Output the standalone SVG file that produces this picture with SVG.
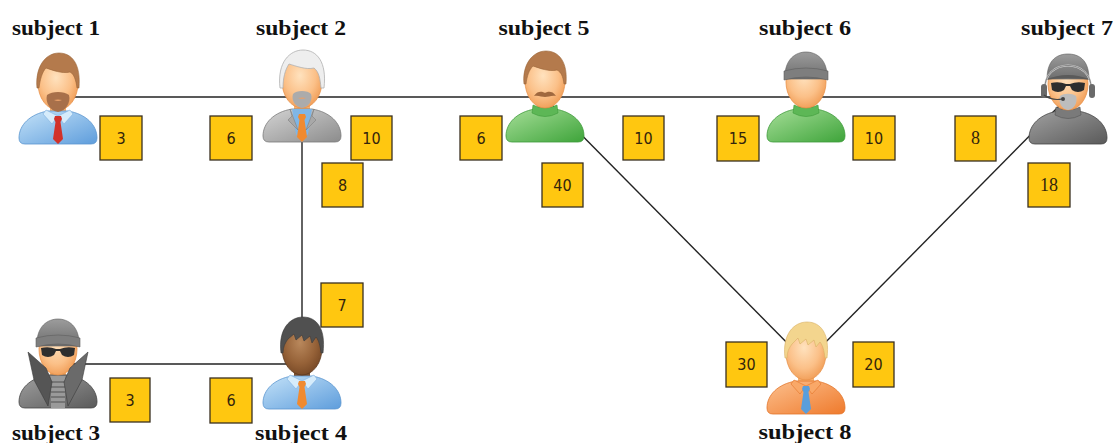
<svg xmlns="http://www.w3.org/2000/svg" width="1116" height="443" viewBox="0 0 1116 443">
  <style>
    .title { font-family: "Liberation Serif", "Times New Roman", serif; font-weight: bold; font-size: 21px; fill: #111; text-anchor: middle; }
    .wbox { fill: #FFC710; stroke: #3a3020; stroke-width: 1.3; }
    .wtxt { font-family: "DejaVu Sans Condensed", "DejaVu Sans", sans-serif; font-size: 16px; fill: #33240c; text-anchor: middle; }
    .wtxt.serif { font-family: "Liberation Serif", serif; font-size: 18px; }
    .edge { stroke: #222; stroke-width: 1.4; fill: none; }
    .head { fill: url(#skin); stroke: #E8924A; stroke-width: 0.8; }
    .headD { fill: url(#skinD); stroke: #5E3A1E; stroke-width: 0.8; }
    .neck { fill: #F5B070; }
    .neckD { fill: #7E5230; }
    .shirtBlue { fill: url(#blue); stroke: #5B95CF; stroke-width: 0.8; }
    .green { fill: url(#green); stroke: #3E9A3A; stroke-width: 0.8; }
    .greyCoat { fill: url(#grey); stroke: #7A7A7A; stroke-width: 0.8; }
    .darkCoat { fill: url(#dark); stroke: #444; stroke-width: 0.8; }
    .orange { fill: url(#orange); stroke: #E27428; stroke-width: 0.8; }
    .glasses { fill: #2E2E2E; }
  </style>
  <defs>
    <radialGradient id="skin" cx="0.45" cy="0.4" r="0.65">
      <stop offset="0" stop-color="#FFE2BE"/>
      <stop offset="0.6" stop-color="#FBC088"/>
      <stop offset="1" stop-color="#F09A52"/>
    </radialGradient>
    <radialGradient id="skinD" cx="0.45" cy="0.4" r="0.65">
      <stop offset="0" stop-color="#B9885C"/>
      <stop offset="0.6" stop-color="#966238"/>
      <stop offset="1" stop-color="#744624"/>
    </radialGradient>
    <linearGradient id="blue" x1="0" y1="0" x2="1" y2="1">
      <stop offset="0" stop-color="#C4E2F8"/>
      <stop offset="1" stop-color="#5E9DDC"/>
    </linearGradient>
    <linearGradient id="green" x1="0" y1="0" x2="1" y2="1">
      <stop offset="0" stop-color="#A6DE98"/>
      <stop offset="1" stop-color="#3EA43A"/>
    </linearGradient>
    <linearGradient id="grey" x1="0" y1="0" x2="1" y2="1">
      <stop offset="0" stop-color="#D4D4D4"/>
      <stop offset="1" stop-color="#8C8C8C"/>
    </linearGradient>
    <linearGradient id="dark" x1="0" y1="0" x2="1" y2="1">
      <stop offset="0" stop-color="#A0A0A0"/>
      <stop offset="1" stop-color="#5A5A5A"/>
    </linearGradient>
    <linearGradient id="orange" x1="0" y1="0" x2="1" y2="1">
      <stop offset="0" stop-color="#FCC08E"/>
      <stop offset="1" stop-color="#EF7A2C"/>
    </linearGradient>
    <linearGradient id="cap" x1="0" y1="0" x2="0" y2="1">
      <stop offset="0" stop-color="#9C9C9C"/>
      <stop offset="1" stop-color="#6E6E6E"/>
    </linearGradient>
    <!-- shared outlines in icon-local units (x -39..39, y 0..92) -->
    <path id="bodyShape" d="M -10,59 L 10,59 C 28,62 39,73 39,86 Q 39,92 33,92 L -33,92 Q -39,92 -39,86 C -39,73 -28,62 -10,59 Z"/>
    <path id="tieShape" d="M -3,64 L 3,64 L 4,67 L 2.5,70 L 5,87 L 0,92 L -5,87 L -2.5,70 L -4,67 Z"/>
    <path id="collarL" d="M -12,58 L 0,64 L -6,72 L -15,62 Z"/>
    <path id="collarR" d="M 12,58 L 0,64 L 6,72 L 15,62 Z"/>
    <path id="turtle" d="M -12,55 Q 0,61 12,55 L 13,63 Q 0,70 -13,63 Z"/>
    <path id="beanie" d="M -21,28 C -22,8 -10,1 0,1 C 10,1 22,8 21,28 Z"/>
    <path id="beanieBand" d="M -22,20 Q 0,14 22,20 L 22,29 Q 0,23 -22,29 Z"/>
    <path id="shades" d="M -17,30 Q -9,28 -2,31 L 2,31 Q 9,28 17,30 L 16,37 Q 10,41 4,37 L 2,33 L -2,33 L -4,37 Q -10,41 -16,37 Z"/>
  </defs>

  <!-- connectors (drawn first; icons sit on top of the line ends) -->
  <g id="connectors">
    <line class="edge" x1="58" y1="97" x2="302" y2="97"/>
    <line class="edge" x1="302" y1="97" x2="545" y2="97"/>
    <line class="edge" x1="545" y1="97" x2="806" y2="97"/>
    <line class="edge" x1="806" y1="97" x2="1068" y2="97"/>
    <line class="edge" x1="302" y1="97" x2="302" y2="363"/>
    <line class="edge" x1="58" y1="364" x2="302" y2="364"/>
    <line class="edge" x1="545" y1="98" x2="806" y2="362"/>
    <line class="edge" x1="1068" y1="97" x2="806" y2="362"/>
  </g>

  <!-- subject 1 -->
  <g id="subject1">
    <text class="title" x="56" y="35" textLength="88" lengthAdjust="spacingAndGlyphs">subject 1</text>
    <g transform="translate(58,52)">
      <rect class="neck" x="-8" y="48" width="16" height="16"/>
      <use href="#bodyShape" class="shirtBlue"/>
      <use href="#collarL" fill="#D6ECFB" stroke="#7FB0E0" stroke-width="0.6"/>
      <use href="#collarR" fill="#D6ECFB" stroke="#7FB0E0" stroke-width="0.6"/>
      <use href="#tieShape" fill="#D2322A"/>
      <ellipse class="head" cx="0" cy="31" rx="20" ry="27"/>
      <path d="M -21,36 C -23,14 -12,1 1,1 C 14,1 23,12 21,36 L 19,36 C 18,28 16,22 12,20 C 4,22 -6,18 -12,16 C -16,20 -18,28 -19,36 Z" fill="#B47A4C" stroke="#9A6438" stroke-width="0.6"/>
      <path d="M -11,43 C -6,39 6,39 11,43 C 13,50 8,59 0,60 C -8,59 -13,50 -11,43 Z" fill="#A8704A"/>
      <path d="M -4,48 Q 0,47 4,48 Q 0,50 -4,48 Z" fill="#E9A06A"/>
    </g>
    <rect class="wbox" x="100" y="116" width="42" height="44"/>
    <text class="wtxt" x="121" y="144">3</text>
  </g>

  <!-- subject 2 -->
  <g id="subject2">
    <text class="title" x="301" y="35" textLength="90" lengthAdjust="spacingAndGlyphs">subject 2</text>
    <g transform="translate(302,50)">
      <rect class="neck" x="-8" y="48" width="16" height="16"/>
      <use href="#bodyShape" class="greyCoat"/>
      <path d="M -10,59 L 10,59 L 6,84 L 0,92 L -6,84 Z" fill="#7FB6E6"/>
      <use href="#tieShape" fill="#F08A30"/>
      <path d="M -12,59 L -4,80 L -14,70 L -10,66 Z M 12,59 L 4,80 L 14,70 L 10,66 Z" fill="#A8A8A8" stroke="#808080" stroke-width="0.6"/>
      <ellipse class="head" cx="0" cy="31" rx="20" ry="27"/>
      <path d="M -22,38 C -25,12 -12,0 1,0 C 15,0 25,12 22,38 L 19,38 C 18,28 17,22 12,18 C 4,20 -6,16 -13,14 C -17,20 -19,28 -19,38 Z" fill="#EEEEEE" stroke="#B0B0B0" stroke-width="0.8"/>
      <path d="M -9,44 C -6,40 6,40 9,44 C 11,50 7,57 0,58 C -7,57 -11,50 -9,44 Z" fill="#ABABAB"/>
      <path d="M -4,48 Q 0,47 4,48 Q 0,50 -4,48 Z" fill="#E2A070"/>
    </g>
    <rect class="wbox" x="210" y="116" width="42" height="44"/>
    <text class="wtxt" x="231" y="144">6</text>
    <rect class="wbox" x="351" y="116" width="41" height="44"/>
    <text class="wtxt" x="371.5" y="144">10</text>
    <rect class="wbox" x="322" y="163" width="41" height="44"/>
    <text class="wtxt" x="342.5" y="191">8</text>
  </g>

  <!-- subject 5 -->
  <g id="subject5">
    <text class="title" x="544" y="35" textLength="91" lengthAdjust="spacingAndGlyphs">subject 5</text>
    <g transform="translate(545,50)">
      <rect class="neck" x="-8" y="48" width="16" height="14"/>
      <use href="#bodyShape" class="green"/>
      <use href="#turtle" fill="#5DB756" stroke="#3E9A3A" stroke-width="0.6"/>
      <ellipse class="head" cx="0" cy="31" rx="20" ry="27"/>
      <path d="M -21,34 C -23,14 -12,1 1,1 C 14,1 23,12 21,34 L 19,34 C 18,26 16,22 12,20 C 4,22 -6,18 -12,16 C -16,20 -18,26 -19,34 Z" fill="#B47A4C" stroke="#9A6438" stroke-width="0.6"/>
      <path d="M -11,46 C -7,40 -2,42 0,43 C 2,42 7,40 11,46 C 7,45 3,47 0,47 C -3,47 -7,45 -11,46 Z" fill="#A0683E"/>
    </g>
    <rect class="wbox" x="460" y="116" width="42" height="44"/>
    <text class="wtxt" x="481" y="144">6</text>
    <rect class="wbox" x="623" y="116" width="41" height="44"/>
    <text class="wtxt" x="643.5" y="144">10</text>
    <rect class="wbox" x="542" y="163" width="41" height="44"/>
    <text class="wtxt" x="562.5" y="191">40</text>
  </g>

  <!-- subject 6 -->
  <g id="subject6">
    <text class="title" x="805" y="35" textLength="92" lengthAdjust="spacingAndGlyphs">subject 6</text>
    <g transform="translate(806,51)">
      <rect class="neck" x="-8" y="46" width="16" height="14"/>
      <use href="#bodyShape" class="green" transform="translate(0,-1)"/>
      <use href="#turtle" fill="#5DB756" stroke="#3E9A3A" stroke-width="0.6" transform="translate(0,-1)"/>
      <ellipse class="head" cx="0" cy="31" rx="20" ry="26"/>
      <use href="#beanie" fill="url(#cap)" stroke="#5E5E5E" stroke-width="0.6"/>
      <use href="#beanieBand" fill="#7E7E7E" stroke="#5E5E5E" stroke-width="0.6"/>
    </g>
    <rect class="wbox" x="717" y="116" width="42" height="45"/>
    <text class="wtxt" x="738" y="144">15</text>
    <rect class="wbox" x="853" y="116" width="42" height="44"/>
    <text class="wtxt" x="874" y="144">10</text>
  </g>

  <!-- subject 7 -->
  <g id="subject7">
    <text class="title" x="1067" y="35" textLength="92" lengthAdjust="spacingAndGlyphs">subject 7</text>
    <g transform="translate(1068,53)">
      <rect class="neck" x="-8" y="46" width="16" height="14"/>
      <use href="#bodyShape" class="darkCoat" transform="translate(0,-1)"/>
      <use href="#turtle" fill="#7A7A7A" stroke="#555" stroke-width="0.6" transform="translate(0,-1)"/>
      <ellipse class="head" cx="0" cy="31" rx="20" ry="26"/>
      <path d="M -21,26 C -21,6 -10,1 0,1 C 10,1 21,6 21,26 Z" fill="url(#cap)" stroke="#5E5E5E" stroke-width="0.6"/>
      <path d="M -23,27 Q 0,17 23,27 Q 0,23 -23,27 Z" fill="#5A5A5A"/>
      <use href="#shades" class="glasses"/>
      <path d="M -23,38 C -26,4 26,4 23,38" fill="none" stroke="#D0D0D0" stroke-width="2"/>
      <path d="M -23,38 C -26,4 26,4 23,38" fill="none" stroke="#666" stroke-width="0.7"/>
      <rect x="-27" y="31" width="6" height="14" rx="3" fill="#6A6A6A"/>
      <rect x="21" y="31" width="6" height="14" rx="3" fill="#6A6A6A"/>
      <path d="M -8,43 C -4,40 4,40 8,43 C 10,50 6,56 0,57 C -6,56 -10,50 -8,43 Z" fill="#BDBDBD"/>
      <path d="M -24,42 Q -16,48 -6,46" fill="none" stroke="#444" stroke-width="1.2"/>
      <circle cx="-5" cy="46" r="2" fill="#444"/>
    </g>
    <rect class="wbox" x="955" y="116" width="41" height="45"/>
    <text class="wtxt serif" x="975.5" y="144">8</text>
    <rect class="wbox" x="1028" y="163" width="42" height="44"/>
    <text class="wtxt serif" x="1049" y="191">18</text>
  </g>

  <!-- subject 3 -->
  <g id="subject3">
    <g transform="translate(58,318)">
      <rect class="neck" x="-8" y="46" width="16" height="14"/>
      <use href="#bodyShape" class="darkCoat" transform="translate(0,-2)"/>
      <rect x="-7" y="58" width="14" height="32" fill="#9A9A9A"/>
      <path d="M -7,64 H 7 M -7,69 H 7 M -7,74 H 7 M -7,79 H 7 M -7,84 H 7" stroke="#6A6A6A" stroke-width="1.6"/>
      <ellipse class="head" cx="0" cy="31" rx="19" ry="26"/>
      <path d="M -12,50 L -30,34 L -24,62 L -10,88 L -6,64 Z" fill="#555" stroke="#3A3A3A" stroke-width="0.6"/>
      <path d="M 12,50 L 30,34 L 24,62 L 10,88 L 6,64 Z" fill="#6A6A6A" stroke="#3A3A3A" stroke-width="0.6"/>
      <use href="#beanie" fill="url(#cap)" stroke="#5E5E5E" stroke-width="0.6"/>
      <use href="#beanieBand" fill="#7E7E7E" stroke="#5E5E5E" stroke-width="0.6"/>
      <use href="#shades" class="glasses"/>
    </g>
    <rect class="wbox" x="110" y="378" width="40" height="44"/>
    <text class="wtxt" x="130" y="406">3</text>
    <text class="title" x="56" y="440" textLength="88" lengthAdjust="spacingAndGlyphs">subject 3</text>
  </g>

  <!-- subject 4 -->
  <g id="subject4">
    <g transform="translate(302,317)">
      <rect class="neckD" x="-8" y="48" width="16" height="16"/>
      <use href="#bodyShape" class="shirtBlue"/>
      <use href="#collarL" fill="#D6ECFB" stroke="#7FB0E0" stroke-width="0.6"/>
      <use href="#collarR" fill="#D6ECFB" stroke="#7FB0E0" stroke-width="0.6"/>
      <use href="#tieShape" fill="#F08A30"/>
      <ellipse class="headD" cx="0" cy="31" rx="20" ry="27"/>
      <path d="M -21,36 C -24,12 -12,0 1,0 C 15,0 24,12 21,36 L 19,36 C 18,28 17,24 14,20 L 10,26 L 8,19 L 2,24 L 0,18 L -6,23 L -8,17 L -14,22 C -17,26 -19,30 -19,36 Z" fill="#505050" stroke="#3A3A3A" stroke-width="0.6"/>
    </g>
    <rect class="wbox" x="321" y="283" width="42" height="44"/>
    <text class="wtxt" x="342" y="311">7</text>
    <rect class="wbox" x="210" y="378" width="42" height="45"/>
    <text class="wtxt" x="231" y="406">6</text>
    <text class="title" x="301" y="440" textLength="92" lengthAdjust="spacingAndGlyphs">subject 4</text>
  </g>

  <!-- subject 8 -->
  <g id="subject8">
    <g transform="translate(806,322)">
      <rect class="neck" x="-8" y="48" width="16" height="16"/>
      <use href="#bodyShape" class="orange"/>
      <use href="#collarL" fill="#F9A868" stroke="#E27428" stroke-width="0.6"/>
      <use href="#collarR" fill="#F9A868" stroke="#E27428" stroke-width="0.6"/>
      <use href="#tieShape" fill="#5A9EDC"/>
      <ellipse class="head" cx="0" cy="31" rx="20" ry="27"/>
      <path d="M -21,36 C -24,12 -12,0 1,0 C 15,0 24,12 21,36 L 19,36 C 18,28 17,24 14,20 L 10,25 L 8,18 L 2,23 L 0,17 L -6,22 L -8,16 L -14,22 C -17,26 -19,30 -19,36 Z" fill="#F3D58E" stroke="#D8B064" stroke-width="0.6"/>
    </g>
    <rect class="wbox" x="726" y="342" width="41" height="45"/>
    <text class="wtxt" x="746.5" y="370">30</text>
    <rect class="wbox" x="853" y="342" width="41" height="45"/>
    <text class="wtxt" x="873.5" y="370">20</text>
    <text class="title" x="805" y="439" textLength="93" lengthAdjust="spacingAndGlyphs">subject 8</text>
  </g>
</svg>
